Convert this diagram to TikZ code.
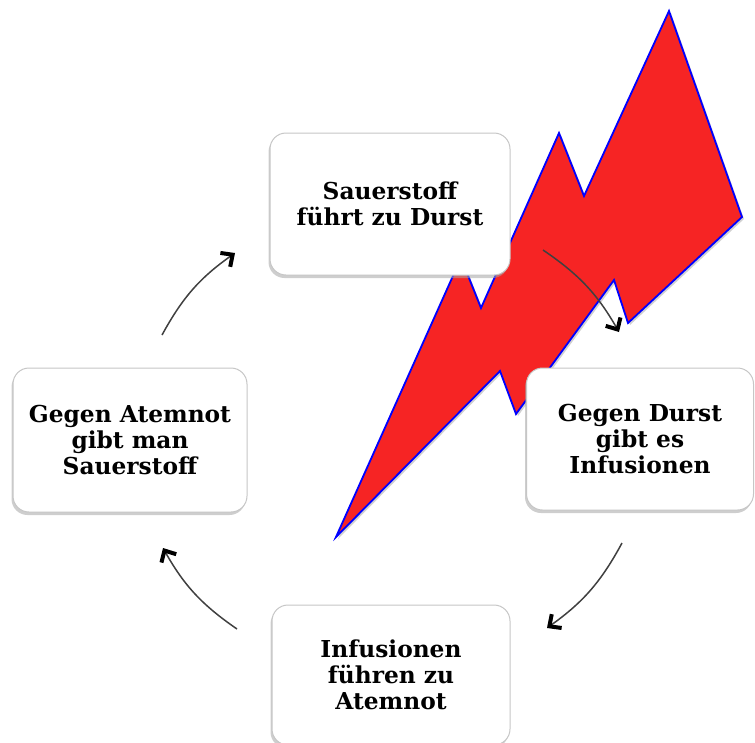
\documentclass[tikz,border=0pt]{standalone}
\usepackage{fontspec}
\setmainfont{DejaVu Serif}
\usepackage{tikz}
\usetikzlibrary{arrows.meta, shadows}

\begin{document}
\begin{tikzpicture}[
    x=1pt, y=-1pt,
    box/.style={rectangle, draw=gray!45, line width=1pt, rounded corners=16pt,
                fill=white, align=center, inner sep=0pt,
                drop shadow={shadow xshift=-1.5pt, shadow yshift=-3pt,
                             fill=gray!70, opacity=.55},
                font=\bfseries\fontsize{23.3}{26}\selectfont},
    cyc/.style={draw=black!75, line width=1.5pt,
                -{Straight Barb[length=9pt, width=17pt, line width=4pt, color=black]}},
    bolt/.style={draw=blue, line width=1.8pt, line join=miter,
                 fill={rgb,255:red,246;green,36;blue,36},
                 drop shadow={shadow xshift=2pt, shadow yshift=-2pt,
                              fill=gray!60, opacity=.6}}
]
\useasboundingbox (0,0) rectangle (755,742);

% === LIGHTNING ===
\path[bolt] (336,537) -- (461,258) -- (481,308) -- (559,133) -- (584,196)
    -- (669,11) -- (742,217) -- (628,323) -- (614,280) -- (516,414)
    -- (500,371) -- cycle;

% === BOXES ===
\node[box, minimum width=240pt, minimum height=142pt] (sauer) at (390,204)
    {Sauerstoff\\führt zu Durst};
\node[box, minimum width=227pt, minimum height=142pt] (durst) at (640,439)
    {Gegen Durst\\gibt es\\Infusionen};
\node[box, minimum width=234pt, minimum height=144pt] (atem) at (130,440)
    {Gegen Atemnot\\gibt man\\Sauerstoff};
\node[box, minimum width=238pt, minimum height=140pt] (infu) at (391,675)
    {Infusionen\\führen zu\\Atemnot};

% === ARROWS ===
\coordinate (a1s) at (162,335);
\coordinate (a1e) at (235,253);
\coordinate (a2s) at (543,250);
\coordinate (a2e) at (619,332);
\coordinate (a3s) at (622,543);
\coordinate (a3e) at (547,628);
\coordinate (a4s) at (237,629);
\coordinate (a4e) at (163,548);

\draw[cyc] (a1s) to[bend left=13] (a1e);
\draw[cyc] (a2s) to[bend left=13] (a2e);
\draw[cyc] (a3s) to[bend left=13] (a3e);
\draw[cyc] (a4s) to[bend left=13] (a4e);

\end{tikzpicture}
\end{document}
